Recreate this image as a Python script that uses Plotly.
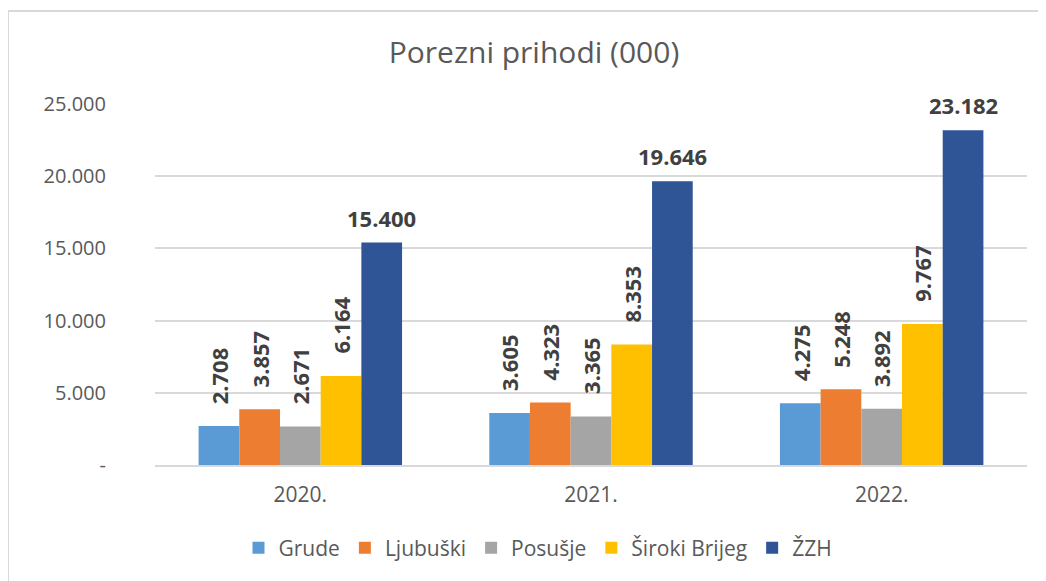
import plotly.graph_objects as go

years = ["2020.", "2021.", "2022."]
series_names = ["Grude", "Ljubuški", "Posušje", "Široki Brijeg", "ŽZH"]
grude = [2708, 3605, 4275]
ljubuski = [3857, 4323, 5248]
posusje = [2671, 3365, 3892]
siroki = [6164, 8353, 9767]
zzh = [15400, 19646, 23182]
colors = ["#5B9BD5", "#ED7D31", "#A5A5A5", "#FFC000", "#2F5597"]
y_tickvals = [0, 5000, 10000, 15000, 20000, 25000]
y_ticktext = ["-", "5.000", "10.000", "15.000", "20.000", "25.000"]

all_values = [grude, ljubuski, posusje, siroki, zzh]

def fmt(v):
    return f"{v:,}".replace(",", ".")

FONT = "Open Sans"
W, H = 1038, 573  # page has an 8px body margin
L, R, T, B = 147, 19, 96, 116
PW, PH = W - L - R, H - T - B

fig = go.Figure()
for name, vals, col in zip(series_names, all_values, colors):
    fig.add_trace(go.Bar(name=name, x=years, y=vals, marker=dict(color=col, line=dict(width=0))))

bargap = 0.3
n = len(series_names)
bw = (1 - bargap) / n
annotations = []
for i, vals in enumerate(all_values):
    for ci, v in enumerate(vals):
        xpos = ci + (i - (n - 1) / 2) * bw
        rotated = i < n - 1
        annotations.append(dict(
            x=xpos, y=v, xref="x", yref="y", text=fmt(v), showarrow=False,
            textangle=-90 if rotated else 0,
            xanchor="center", yanchor="bottom" if rotated else "middle",
            yshift=20 if rotated else 25,
            font=dict(family=FONT, size=22, color="#404040", weight="bold"),
        ))

fig.update_layout(
    width=W, height=H,
    barmode="group", bargap=bargap, bargroupgap=0,
    paper_bgcolor="white", plot_bgcolor="white",
    margin=dict(l=L, r=R, t=T, b=B),
    title=dict(text="Porezni prihodi (000)", x=526 / W, xanchor="center",
               y=1 - 44 / H, yanchor="middle",
               font=dict(family=FONT, size=30, color="#595959")),
    font=dict(family=FONT, color="#595959"),
    showlegend=True,
    legend=dict(orientation="h", xref="container", yref="container",
                x=530 / W, xanchor="center", y=1 - 540 / H, yanchor="middle",
                font=dict(family=FONT, size=21, color="#595959"),
                itemwidth=30, traceorder="normal"),
    annotations=annotations,
    shapes=[
        dict(type="line", xref="paper", yref="paper",
             x0=(0 - L) / PW, x1=(0 - L) / PW, y0=(PH + T - 3) / PH, y1=-1,
             line=dict(color="#D9D9D9", width=2)),
        dict(type="line", xref="paper", yref="paper",
             x0=(0 - L) / PW, x1=(W + 20 - L) / PW, y0=(PH + T - 3) / PH, y1=(PH + T - 3) / PH,
             line=dict(color="#D9D9D9", width=2)),
    ],
)
fig.update_xaxes(showgrid=False, showline=True, linecolor="#D9D9D9", linewidth=1.5,
                 tickfont=dict(family=FONT, size=21, color="#595959"),
                 ticks="", ticklabelstandoff=10)
fig.update_yaxes(range=[0, 25000], tickvals=y_tickvals, ticktext=y_ticktext,
                 showgrid=True, gridcolor="#D9D9D9", gridwidth=1.5, zeroline=False,
                 showline=False, ticks="", ticklabelstandoff=48,
                 tickfont=dict(family=FONT, size=20, color="#595959"))

fig.write_html("out.html")
